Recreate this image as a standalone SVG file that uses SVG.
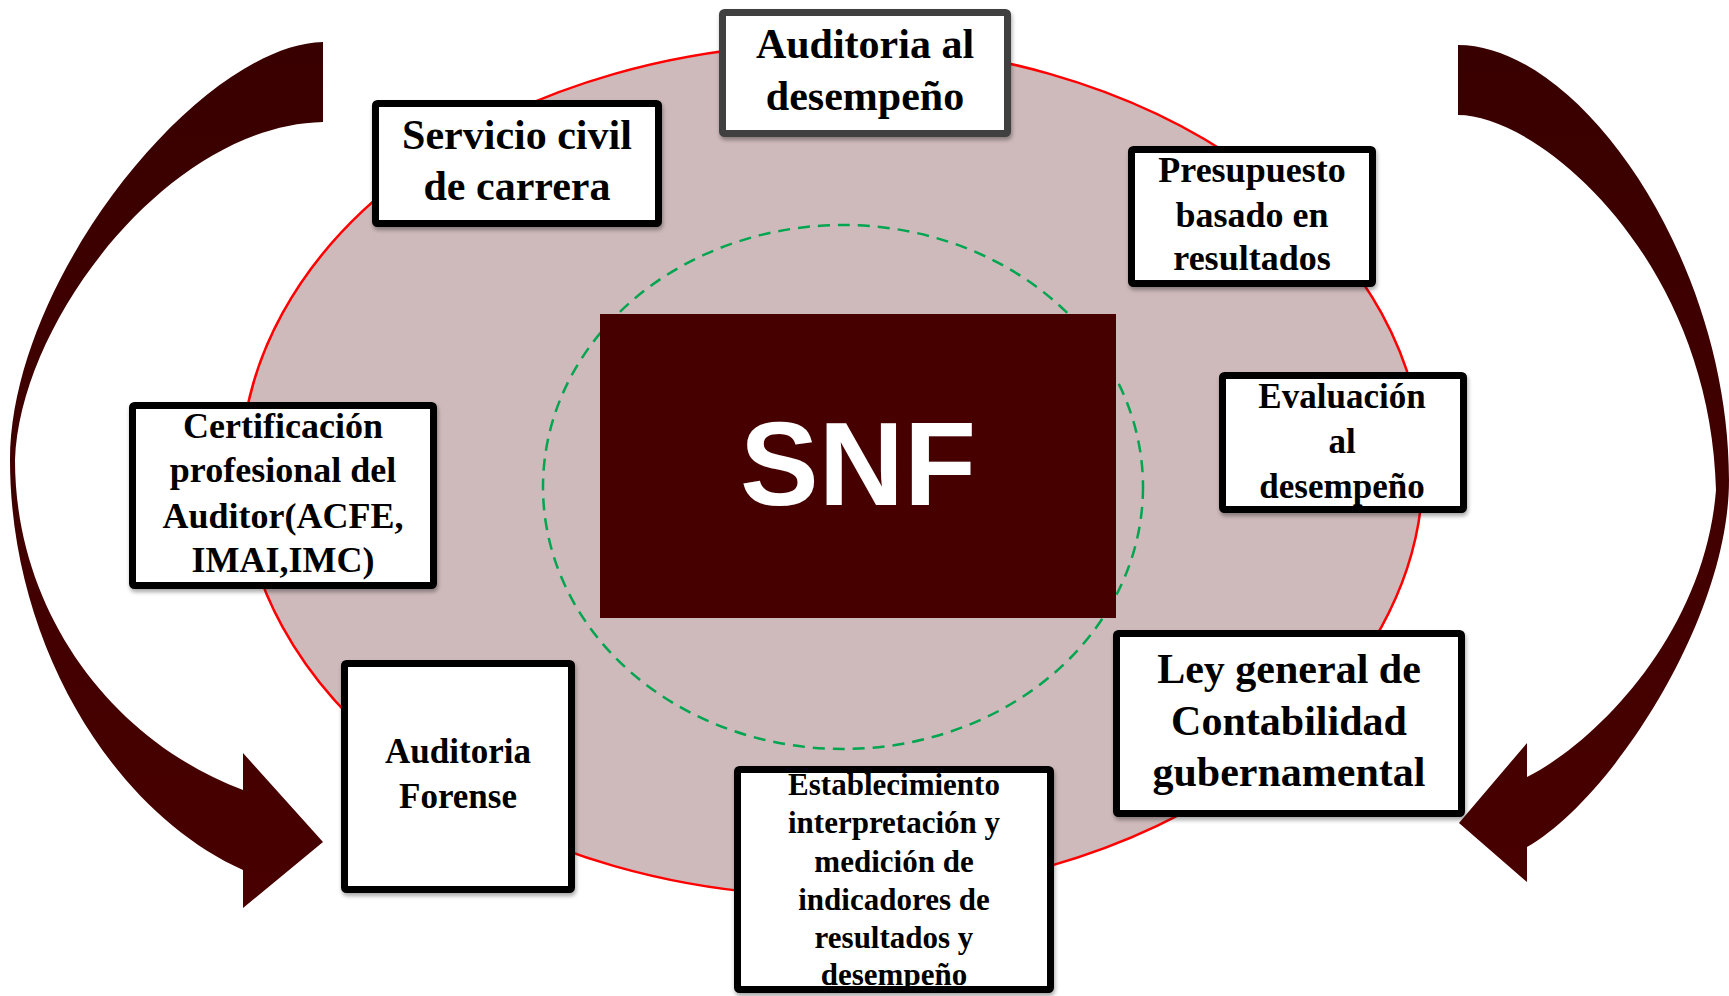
<svg xmlns="http://www.w3.org/2000/svg" width="1729" height="996" viewBox="0 0 1729 996">
<style>
.box{fill:#ffffff;stroke:#000000;stroke-width:7;filter:url(#sh)}
.t{font-family:"Liberation Serif","Times New Roman",serif;font-weight:bold;fill:#000000;text-anchor:middle}
</style>
<defs>
<linearGradient id="ag" x1="0" y1="0" x2="0" y2="1">
<stop offset="0" stop-color="#390000"/>
<stop offset="1" stop-color="#480000"/>
</linearGradient>
<filter id="sh" x="-10%" y="-10%" width="125%" height="125%">
<feGaussianBlur in="SourceAlpha" stdDeviation="2"/>
<feOffset dx="1" dy="3" result="o"/>
<feComponentTransfer><feFuncA type="linear" slope="0.35"/></feComponentTransfer>
<feMerge><feMergeNode/><feMergeNode in="SourceGraphic"/></feMerge>
</filter>
</defs>
<rect width="1729" height="996" fill="#ffffff"/>
<g id="background">
<ellipse cx="832" cy="470" rx="591" ry="426" fill="#CFBABB" stroke="#FF0000" stroke-width="2.5"/>
<ellipse cx="843" cy="487" rx="300" ry="262" fill="none" stroke="#00A550" stroke-width="2.5" stroke-dasharray="12 8"/>
</g>
<g id="connectors">
<path d="M323,42 C200,45 10,280 10,460 C10,640 110,810 243,870 L243,908 L323,842 L243,753 L243,790 C110,740 15,610 15,460 C20,320 170,125 323,122 Z" fill="url(#ag)"/>
<path d="M1458,45 C1580,45 1729,260 1729,480 C1729,620 1610,800 1527,847 L1527,882 L1459,823 L1527,743 L1527,777 C1600,740 1705,630 1716,490 C1710,260 1540,115 1458,115 Z" fill="url(#ag)"/>
</g>
<g id="snf">
<rect x="600" y="314" width="516" height="304" fill="#460000"/>
<text x="858" y="505" font-family="'Liberation Sans',Arial,sans-serif" font-weight="bold" font-size="118" fill="#ffffff" text-anchor="middle">SNF</text>
</g>
<g id="auditoria-desempeno">
<rect class="box" x="722.5" y="12.5" width="285" height="121" rx="2" style="stroke:#404040"/>
<text class="t" font-size="42" x="865" y="58">Auditoria al</text>
<text class="t" font-size="42" x="865" y="110">desempeño</text>
</g>
<g id="servicio-civil">
<rect class="box" x="375.5" y="103.5" width="283" height="120" rx="2"/>
<text class="t" font-size="42" x="517" y="149">Servicio civil</text>
<text class="t" font-size="42" x="517" y="200">de carrera</text>
</g>
<g id="presupuesto">
<rect class="box" x="1131.5" y="149.5" width="241" height="134" rx="2"/>
<text class="t" font-size="36" x="1252" y="182">Presupuesto</text>
<text class="t" font-size="36" x="1252" y="227">basado en</text>
<text class="t" font-size="36" x="1252" y="270">resultados</text>
</g>
<g id="evaluacion">
<rect class="box" x="1222.5" y="375.5" width="241" height="134" rx="2"/>
<text class="t" font-size="35" x="1342" y="408">Evaluación</text>
<text class="t" font-size="35" x="1342" y="453">al</text>
<text class="t" font-size="35" x="1342" y="498">desempeño</text>
</g>
<g id="certificacion">
<rect class="box" x="132.5" y="405.5" width="301" height="180" rx="2"/>
<text class="t" font-size="36" x="283" y="438">Certificación</text>
<text class="t" font-size="36" x="283" y="482">profesional del</text>
<text class="t" font-size="36" x="283" y="528">Auditor(ACFE,</text>
<text class="t" font-size="36" x="283" y="572">IMAI,IMC)</text>
</g>
<g id="auditoria-forense">
<rect class="box" x="344.5" y="663.5" width="227" height="226" rx="2"/>
<text class="t" font-size="35" x="458" y="763">Auditoria</text>
<text class="t" font-size="35" x="458" y="808">Forense</text>
</g>
<g id="establecimiento">
<rect class="box" x="737.5" y="769.5" width="313" height="220" rx="2"/>
<text class="t" font-size="31" x="894" y="795">Establecimiento</text>
<text class="t" font-size="31" x="894" y="833">interpretación y</text>
<text class="t" font-size="31" x="894" y="872">medición de</text>
<text class="t" font-size="31" x="894" y="910">indicadores de</text>
<text class="t" font-size="31" x="894" y="948">resultados y</text>
<text class="t" font-size="31" x="894" y="985">desempeño</text>
</g>
<g id="ley-general">
<rect class="box" x="1116.5" y="633.5" width="345" height="180" rx="2"/>
<text class="t" font-size="42" x="1289" y="683">Ley general de</text>
<text class="t" font-size="42" x="1289" y="735">Contabilidad</text>
<text class="t" font-size="42" x="1289" y="786">gubernamental</text>
</g>
</svg>
